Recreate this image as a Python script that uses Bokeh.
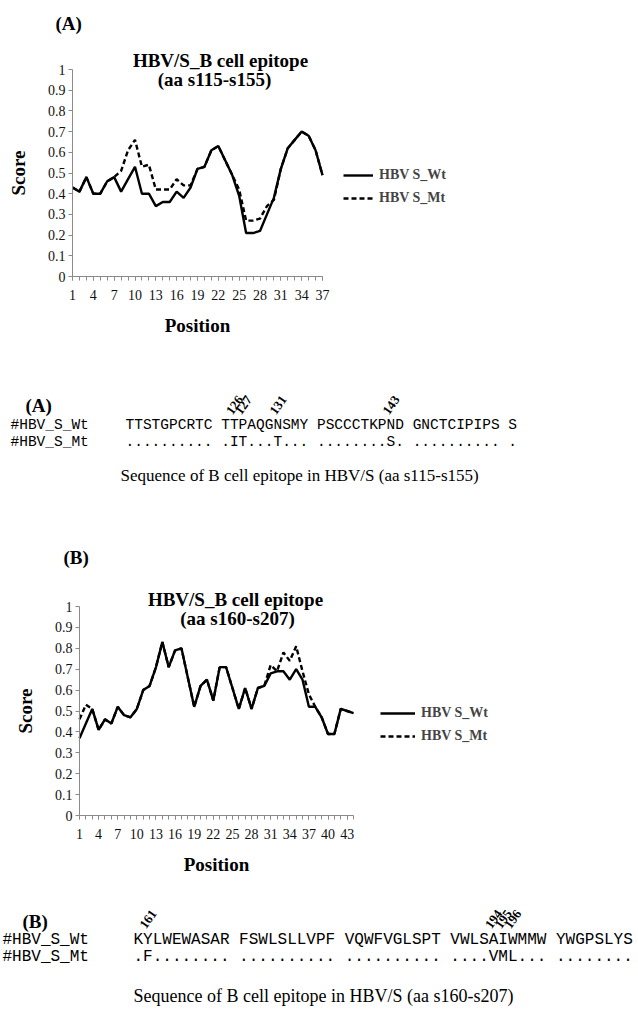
from bokeh.plotting import figure
from bokeh.models import Range1d, FixedTicker, Legend, LegendItem, LinearAxis
from bokeh.embed import file_html
from bokeh.resources import INLINE
from bokeh.core.properties import value
import math

# ---------------- data ----------------
pos_a = list(range(1, 38))
wt_a = [0.43, 0.41, 0.48, 0.40, 0.40, 0.46, 0.48, 0.41, 0.47, 0.53,
        0.40, 0.40, 0.34, 0.36, 0.36, 0.41, 0.38, 0.43, 0.52, 0.53,
        0.61, 0.63, 0.56, 0.49, 0.39, 0.21, 0.21, 0.22, 0.30, 0.38,
        0.52, 0.62, 0.66, 0.70, 0.68, 0.61, 0.49]
mt_a = [0.43, 0.41, 0.48, 0.40, 0.40, 0.46, 0.48, 0.51, 0.61, 0.66,
        0.53, 0.54, 0.42, 0.42, 0.42, 0.47, 0.44, 0.44, 0.52, 0.53,
        0.61, 0.63, 0.56, 0.49, 0.42, 0.27, 0.27, 0.28, 0.34, 0.37,
        0.52, 0.62, 0.66, 0.70, 0.68, 0.61, 0.49]

pos_b = list(range(1, 45))
wt_b = [0.37, 0.44, 0.51, 0.41, 0.46, 0.44, 0.52, 0.48, 0.47, 0.51,
        0.60, 0.62, 0.71, 0.83, 0.71, 0.79, 0.80, 0.66, 0.52, 0.62,
        0.65, 0.55, 0.71, 0.71, 0.61, 0.51, 0.61, 0.51, 0.61, 0.62,
        0.68, 0.69, 0.69, 0.65, 0.70, 0.65, 0.52, 0.52, 0.47, 0.39,
        0.39, 0.51, 0.50, 0.49]
mt_b = [0.46, 0.53, 0.51, 0.41, 0.46, 0.44, 0.52, 0.48, 0.47, 0.51,
        0.60, 0.62, 0.71, 0.83, 0.71, 0.79, 0.80, 0.66, 0.52, 0.62,
        0.65, 0.55, 0.71, 0.71, 0.61, 0.51, 0.61, 0.51, 0.61, 0.62,
        0.72, 0.69, 0.78, 0.74, 0.81, 0.69, 0.58, 0.52, 0.47, 0.39,
        0.39, 0.51, 0.50, 0.49]

y_ticks = [0, 0.1, 0.2, 0.3, 0.4, 0.5, 0.6, 0.7, 0.8, 0.9, 1.0]
y_tick_labels = ["0", "0.1", "0.2", "0.3", "0.4", "0.5", "0.6", "0.7", "0.8", "0.9", "1"]
x_ticks_a = [1, 4, 7, 10, 13, 16, 19, 22, 25, 28, 31, 34, 37]
x_ticks_b = [1, 4, 7, 10, 13, 16, 19, 22, 25, 28, 31, 34, 37, 40, 43]

series_names = ["HBV S_Wt", "HBV S_Mt"]
title_a = ["HBV/S_B cell epitope", "(aa s115-s155)"]
title_b = ["HBV/S_B cell epitope", "(aa s160-s207)"]

seq_labels = ["#HBV_S_Wt", "#HBV_S_Mt"]
seq_a_wt = "TTSTGPCRTC TTPAQGNSMY PSCCCTKPND GNCTCIPIPS S"
seq_a_mt = ".......... .IT...T... ........S. .......... ."
seq_a_start = 115
mut_a = [126, 127, 131, 143]
caption_a = "Sequence of B cell epitope in HBV/S (aa s115-s155)"

seq_b_wt = "KYLWEWASAR FSWLSLLVPF VQWFVGLSPT VWLSAIWMMW YWGPSLYS"
seq_b_mt = ".F........ .......... .......... ....VML... ........"
seq_b_start = 160
mut_b = [161, 194, 195, 196]
caption_b = "Sequence of B cell epitope in HBV/S (aa s160-s207)"

SERIF = "Liberation Serif"
MONO = "Liberation Mono"
W, H = 638, 1009

# one canvas; the default ranges are pixel-like (y grows downward)
p = figure(width=W, height=H, x_range=Range1d(0, W), y_range=Range1d(H, 0),
           output_backend="svg", toolbar_location=None, min_border=0,
           x_axis_type=None, y_axis_type=None)
p.outline_line_color = None
p.grid.visible = False
p.background_fill_color = "white"
p.border_fill_color = "white"


def span_range(v0, v1, p0, p1, length):
    slope = (v1 - v0) / (p1 - p0)
    start = v0 - slope * p0
    return Range1d(start, start + slope * length)


def chart(key, pos, wt, mt, xticks, box, tag, tag_xy, title, title_xy, leg_xy, glyph_w):
    left, top, right, bottom = box
    xr, yr = "x" + key, "y" + key
    p.extra_x_ranges[xr] = span_range(pos[0], pos[-1], left, right, W)
    p.extra_y_ranges[yr] = span_range(0, 1, H - bottom, H - top, H)

    r_mt = p.line(pos, mt, line_color="black", line_width=2.4, line_dash="5 3",
                  x_range_name=xr, y_range_name=yr)
    r_wt = p.line(pos, wt, line_color="black", line_width=2.4,
                  x_range_name=xr, y_range_name=yr)

    xa = LinearAxis(x_range_name=xr, y_range_name=yr, fixed_location=0,
                    bounds=(pos[0], pos[-1]), axis_label="Position",
                    ticker=FixedTicker(ticks=xticks, minor_ticks=list(pos)))
    ya = LinearAxis(x_range_name=xr, y_range_name=yr, fixed_location=pos[0],
                    bounds=(0, 1), axis_label="Score",
                    ticker=FixedTicker(ticks=y_ticks, minor_ticks=[]))
    ya.major_label_overrides = dict(zip(y_ticks, y_tick_labels))
    for ax in (xa, ya):
        ax.axis_line_color = "#8a8a8a"
        ax.major_tick_line_color = "#8a8a8a"
        ax.minor_tick_line_color = "#8a8a8a"
        ax.major_tick_in = 0
        ax.minor_tick_in = 0
        ax.major_tick_out = 4
        ax.minor_tick_out = 4
        ax.major_label_text_font = SERIF
        ax.major_label_text_font_size = "14px"
        ax.major_label_text_color = "#111111"
        ax.axis_label_text_font = SERIF
        ax.axis_label_text_font_style = "bold"
        ax.axis_label_text_font_size = "19px"
        ax.axis_label_text_color = "black"
    xa.major_label_standoff = 9
    xa.axis_label_standoff = 12
    ya.major_label_standoff = 3
    ya.axis_label_standoff = 16
    p.add_layout(xa, "below")
    p.add_layout(ya, "left")

    p.text(x=[tag_xy[0]], y=[tag_xy[1]], text=[tag], text_font=value(SERIF),
           text_font_style="bold", text_font_size="19px", text_baseline="middle")
    p.text(x=[c[0] for c in title_xy], y=[c[1] for c in title_xy], text=title,
           text_font=value(SERIF), text_font_style="bold", text_font_size="19px",
           text_align="center", text_baseline="middle")

    leg = Legend(items=[LegendItem(label=series_names[0], renderers=[r_wt]),
                        LegendItem(label=series_names[1], renderers=[r_mt])],
                 location=leg_xy)
    leg.border_line_color = None
    leg.background_fill_alpha = 0
    leg.padding = 0
    leg.margin = 0
    leg.spacing = 3
    leg.glyph_width = glyph_w
    leg.glyph_height = 20
    leg.label_height = 20
    leg.label_standoff = 6
    leg.label_text_font = SERIF
    leg.label_text_font_style = "bold"
    leg.label_text_font_size = "14px"
    leg.label_text_baseline = "middle"
    p.add_layout(leg, "center")


def sequence(tag, tag_xy, lab_x, seq_x, row_y, font_px, wt, mt, start, muts,
             cap, cap_xy, cap_px):
    cw = 0.6 * font_px
    p.text(x=[tag_xy[0]], y=[tag_xy[1]], text=[tag], text_font=value(SERIF),
           text_font_style="bold", text_font_size="19px", text_baseline="middle")
    p.text(x=[lab_x, lab_x], y=row_y, text=seq_labels, text_font=value(MONO),
           text_font_size=f"{font_px}px", text_baseline="middle")
    p.text(x=[seq_x, seq_x], y=row_y, text=[wt, mt], text_font=value(MONO),
           text_font_size=f"{font_px}px", text_baseline="middle")
    mx, my, mt_txt = [], [], []
    for r in muts:
        off = r - start
        col = off + off // 10
        mx.append(seq_x + col * cw + cw * 0.3)
        my.append(row_y[0] - font_px * 0.62)
        mt_txt.append(str(r))
    p.text(x=mx, y=my, text=mt_txt, angle=math.radians(55), text_font=value(SERIF),
           text_font_style="bold", text_font_size="13px", text_baseline="bottom",
           text_align="left")
    p.text(x=[cap_xy[0]], y=[cap_xy[1]], text=[cap], text_font=value(SERIF),
           text_font_size=f"{cap_px}px", text_baseline="middle")


# chart A: plot box (page px) left 72, top 69, right 322, bottom 276
chart("a", pos_a, wt_a, mt_a, x_ticks_a, (72, 69, 322, 276), "(A)", (55, 23),
      title_a, [(220, 60), (214, 79)], (343, 801), 30)
sequence("(A)", (25, 405), 10, 125, [424, 441], 14.5, seq_a_wt, seq_a_mt,
         seq_a_start, mut_a, caption_a, (120, 475), 17)

# chart B: plot box left 79, top 606, right 353, bottom 815
chart("b", pos_b, wt_b, mt_b, x_ticks_b, (79, 606, 353, 815), "(B)", (63, 557),
      title_b, [(235, 599), (237, 618)], (380, 263), 35)
sequence("(B)", (22, 921), 2, 133, [939, 956], 16, seq_b_wt, seq_b_mt,
         seq_b_start, mut_b, caption_b, (133, 995), 18)

open("out.html", "w").write(file_html(p, INLINE))
